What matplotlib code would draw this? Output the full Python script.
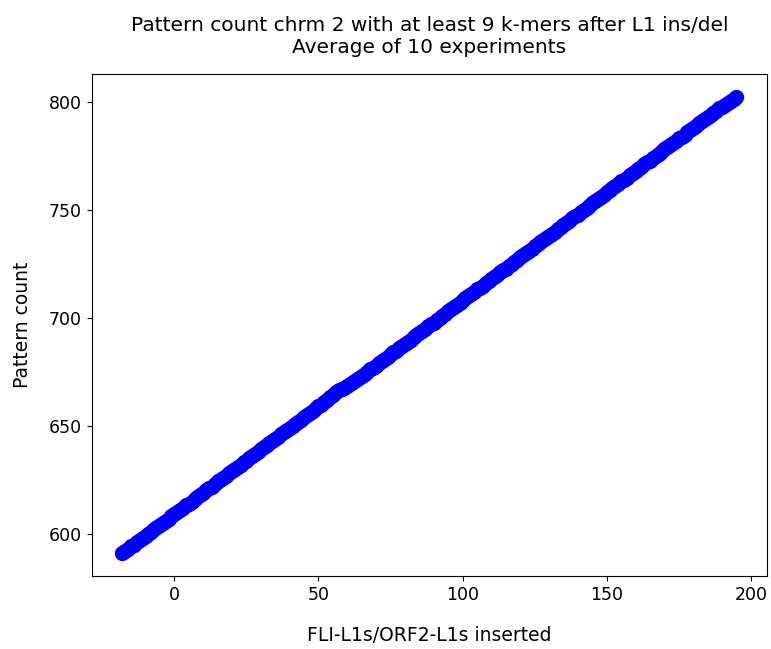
import matplotlib
matplotlib.use("Agg")
import matplotlib.pyplot as plt

x_start = -18
pattern_counts = [
    591.0, 592.2, 593.0, 594.1, 595.0, 596.2, 597.0, 597.9, 599.1, 600.0,
    601.0, 602.1, 602.9, 604.0, 605.1, 606.0, 606.8, 608.0, 609.1, 609.9,
    610.8, 612.0, 613.1, 613.9, 614.8, 616.0, 617.2, 617.9, 618.8, 620.1,
    621.0, 621.8, 623.0, 624.2, 625.1, 625.8, 626.9, 628.2, 629.0, 629.8,
    630.9, 632.0, 633.0, 633.8, 635.0, 636.1, 636.9, 637.8, 639.0, 640.1,
    641.0, 641.8, 643.1, 644.0, 644.9, 646.0, 647.1, 647.8, 648.9, 650.1,
    651.0, 651.9, 652.8, 654.1, 655.0, 655.9, 656.8, 658.1, 659.0, 659.8,
    660.9, 662.0, 663.1, 664.3, 665.6, 666.4, 667.1, 667.6, 668.4, 669.3,
    670.1, 671.0, 672.0, 672.9, 673.8, 675.0, 676.1, 676.9, 677.8, 679.0,
    680.0, 680.8, 681.9, 683.1, 684.0, 684.8, 685.9, 687.1, 688.0, 688.9,
    689.8, 691.0, 692.1, 692.9, 693.8, 695.0, 696.1, 697.0, 697.8, 698.9,
    700.0, 701.0, 701.8, 702.9, 704.1, 705.0, 705.8, 706.9, 708.0, 709.0,
    709.9, 710.8, 712.0, 713.1, 713.9, 714.8, 716.0, 717.1, 717.9, 718.8,
    720.0, 721.1, 722.0, 722.8, 723.9, 725.1, 726.0, 726.8, 727.9, 729.0,
    730.0, 730.9, 731.8, 733.0, 734.1, 734.9, 735.8, 737.0, 738.0, 738.9,
    739.8, 741.0, 742.1, 742.9, 743.8, 745.0, 746.1, 746.9, 747.8, 749.0,
    750.0, 750.9, 751.8, 753.0, 754.1, 755.0, 755.8, 756.9, 758.0, 759.0,
    759.9, 760.8, 762.0, 763.1, 763.9, 764.8, 766.0, 767.0, 767.9, 768.8,
    770.0, 771.1, 771.9, 772.8, 774.0, 775.0, 775.9, 776.8, 778.0, 779.1,
    779.9, 780.8, 782.0, 783.0, 783.9, 784.8, 786.0, 787.1, 787.9, 788.8,
    790.0, 791.0, 791.9, 792.8, 794.0, 795.0, 795.8, 796.9, 797.8, 798.7,
    799.5, 800.4, 801.4, 802.3,
]
inserted = list(range(x_start, x_start + len(pattern_counts)))

title = "Pattern count chrm 2 with at least 9 k-mers after L1 ins/del\nAverage of 10 experiments"
xlabel = "FLI-L1s/ORF2-L1s inserted"
ylabel = "Pattern count"

plt.rcParams['font.family'] = ['DejaVu Sans']
fig = plt.figure(figsize=(7.71, 6.49), dpi=100)
ax = fig.add_axes([0.119, 0.1125, 0.876, 0.7735])
ax.plot(inserted, pattern_counts, 'o', color='#0000ff', markersize=10)
ax.set_xticks([0, 50, 100, 150, 200])
ax.set_yticks([600, 650, 700, 750, 800])
ax.tick_params(labelsize=12.5)
ax.set_title(title, fontsize=14.5, pad=15)
ax.set_xlabel(xlabel, fontsize=13.5, labelpad=16)
ax.set_ylabel(ylabel, fontsize=13.5, labelpad=12)
fig.savefig("out.png", dpi=100)
